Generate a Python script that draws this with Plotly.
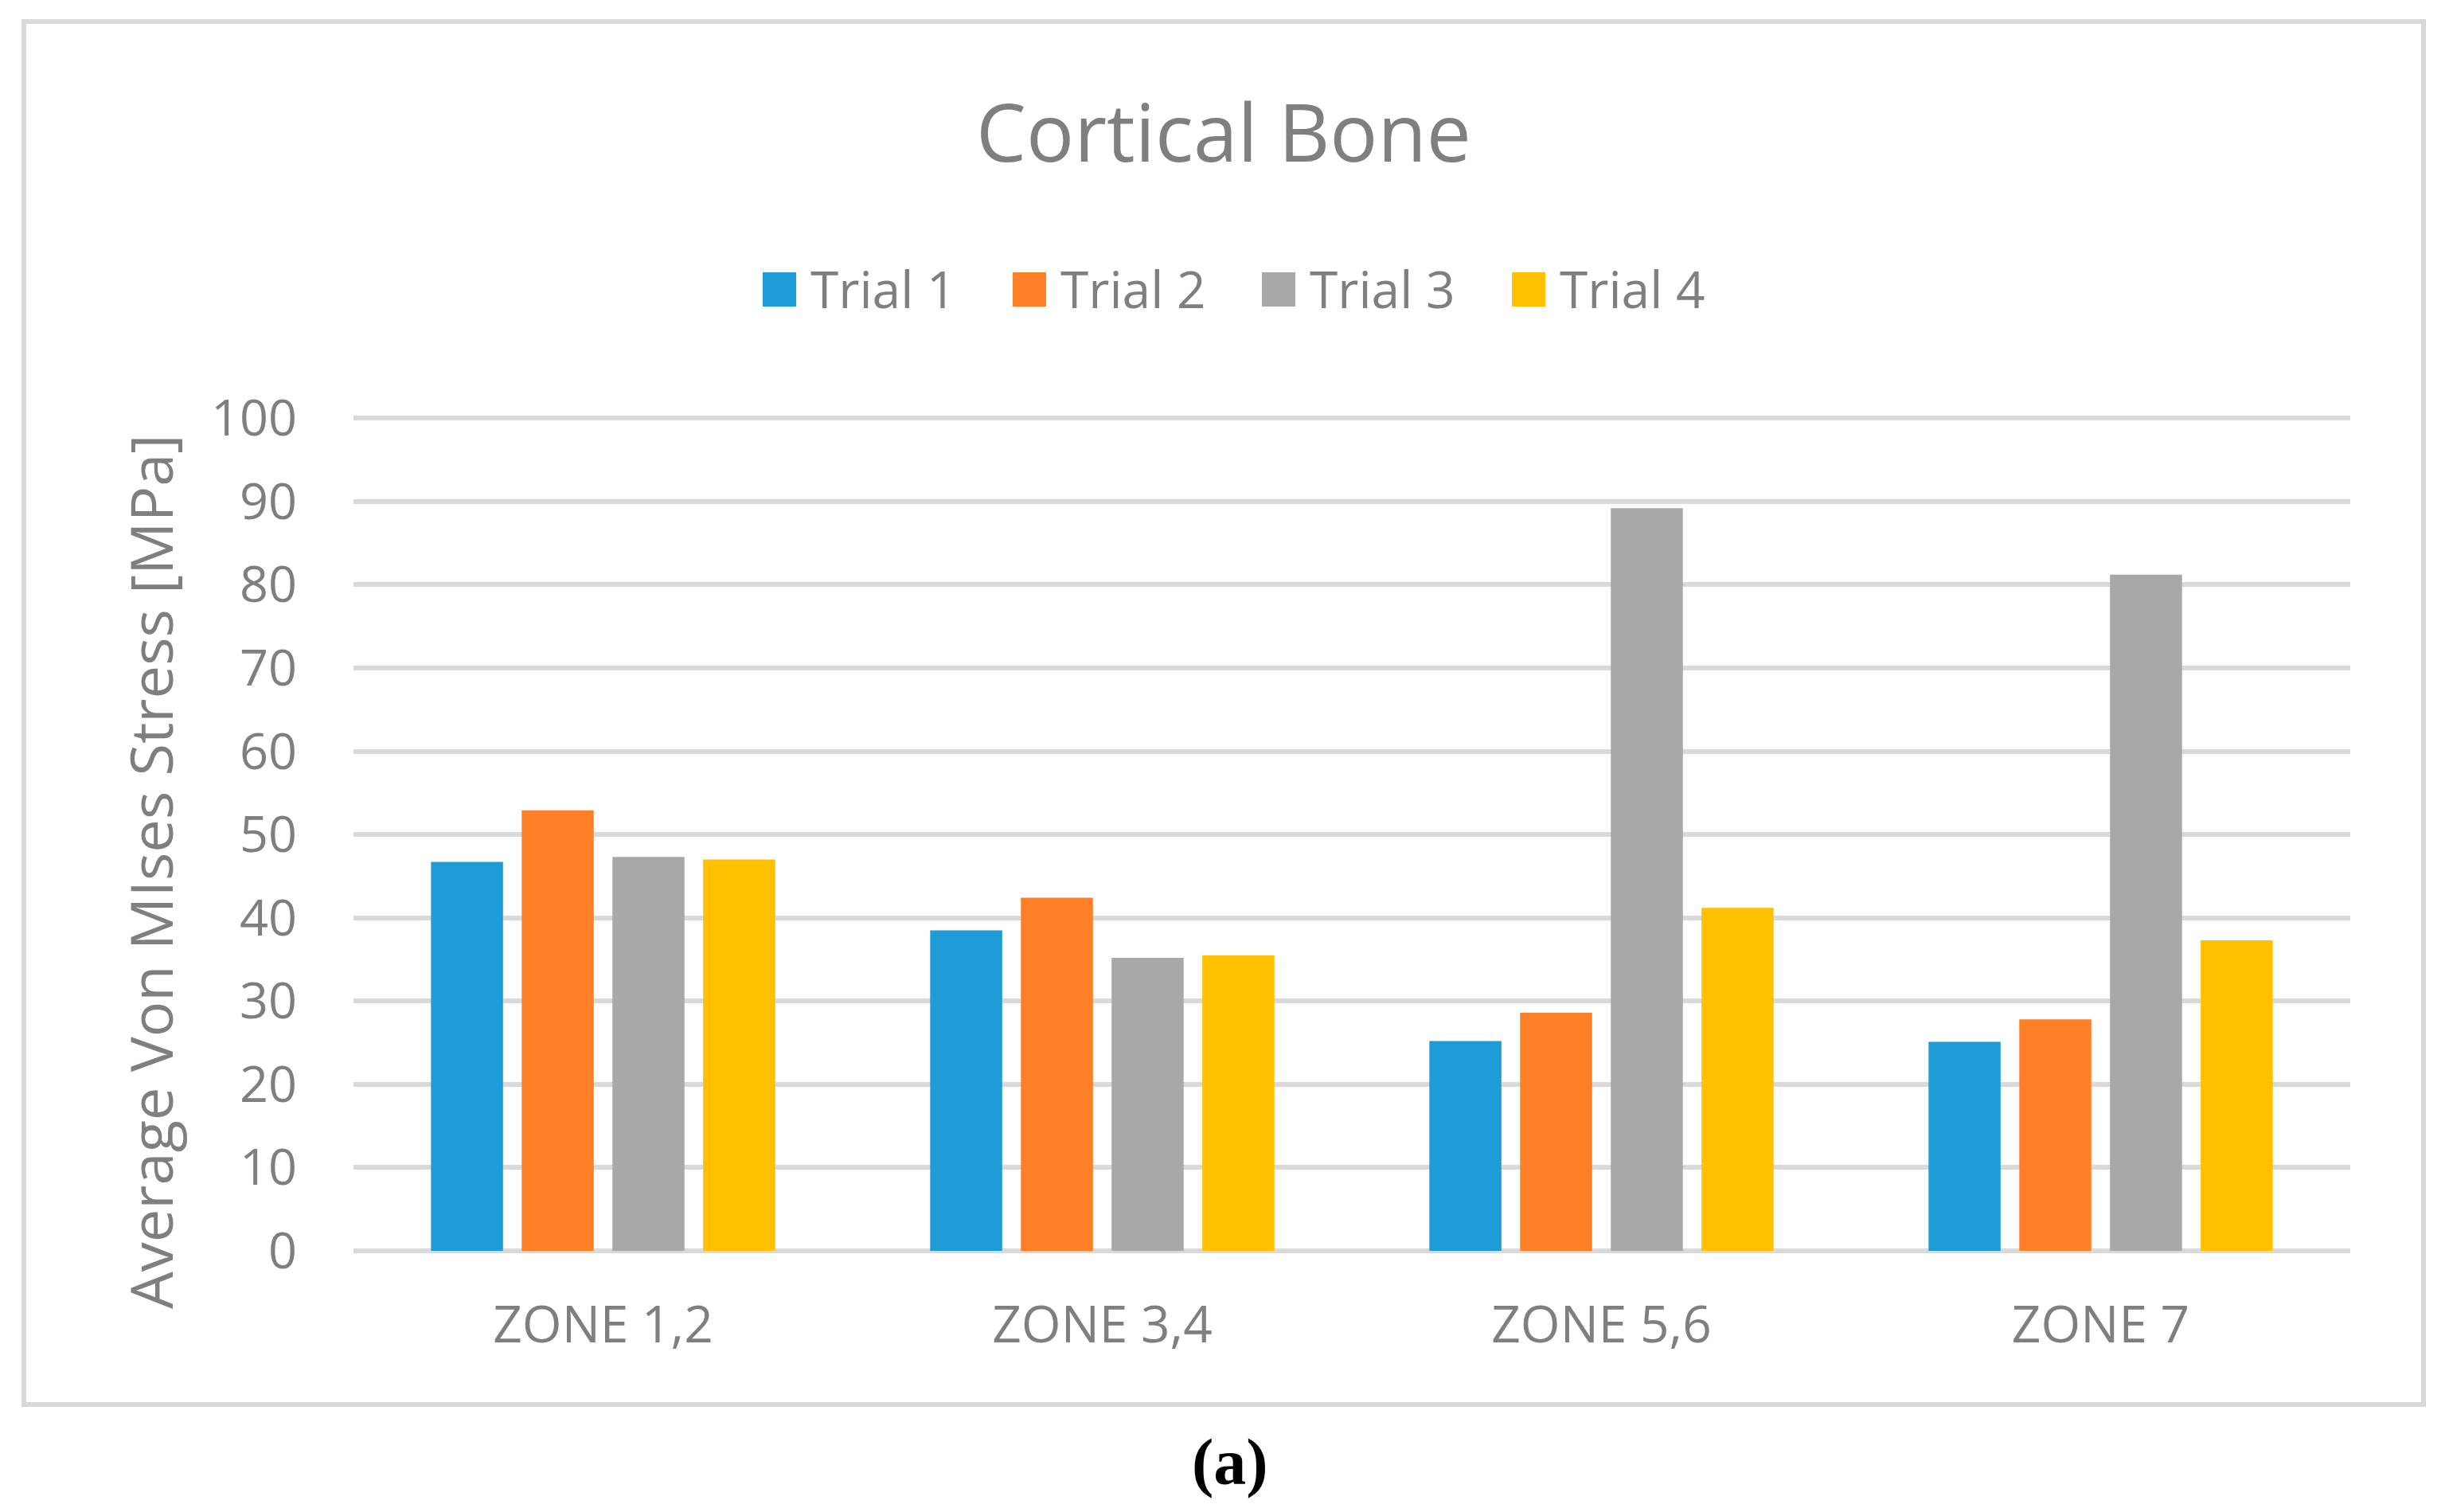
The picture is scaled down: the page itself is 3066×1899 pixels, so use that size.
import plotly.graph_objects as go

# ---- data ----
zones = ["ZONE 1,2", "ZONE 3,4", "ZONE 5,6", "ZONE 7"]
series_names = ["Trial 1", "Trial 2", "Trial 3", "Trial 4"]
trial1 = [46.7, 38.5, 25.2, 25.1]
trial2 = [52.9, 42.4, 28.6, 27.8]
trial3 = [47.3, 35.2, 89.2, 81.2]
trial4 = [47.0, 35.5, 41.2, 37.3]
colors = ["#1E9CD7", "#FF7F27", "#A8A8A8", "#FFC000"]
y_ticks = [0, 10, 20, 30, 40, 50, 60, 70, 80, 90, 100]

W, H = 3066, 1899
L, R, T, B = 444, 3066 - 2952, 520, 1899 - 1571
PW, PH = W - L - R, H - T - B


def px(x):
    return (x - L) / PW


def py(y):
    return (H - B - y) / PH


TXT = "#7F7F7F"
FONT = "Open Sans"

fig = go.Figure()
for name, vals, col in zip(series_names, [trial1, trial2, trial3, trial4], colors):
    fig.add_trace(go.Bar(name=name, x=zones, y=vals, marker=dict(color=col, line=dict(width=0)),
                         showlegend=False))

annotations = [
    # y-axis title
    dict(text="Average Von MIses Stress [MPa]", textangle=-90, x=px(188), y=py(1095),
         xref="paper", yref="paper", showarrow=False, xanchor="center", yanchor="middle",
         font=dict(family=FONT, size=74, color=TXT)),
    # caption
    dict(text="<b>(a)</b>", x=px(1545), y=py(1836), xref="paper", yref="paper", showarrow=False,
         xanchor="center", yanchor="middle",
         font=dict(family="Liberation Serif", size=82, color="#000000")),
]

shapes = [
    dict(type="rect", xref="paper", yref="paper", x0=px(30), x1=px(3044), y0=py(27), y1=py(1764),
         line=dict(color="#D9D9D9", width=6), fillcolor="rgba(0,0,0,0)", layer="below"),
]

# manual legend (large square swatches)
sq_left = [958, 1272, 1585, 1899]
for name, col, x0 in zip(series_names, colors, sq_left):
    shapes.append(dict(type="rect", xref="paper", yref="paper", x0=px(x0), x1=px(x0 + 42),
                       y0=py(385), y1=py(342), fillcolor=col, line=dict(width=0)))
    annotations.append(dict(text=name, x=px(x0 + 58), y=py(362), xref="paper", yref="paper",
                            showarrow=False, xanchor="left", yanchor="middle",
                            font=dict(family=FONT, size=64, color=TXT)))

fig.update_layout(
    width=W, height=H,
    margin=dict(l=L, r=R, t=T, b=B, autoexpand=False),
    paper_bgcolor="white", plot_bgcolor="white",
    barmode="group", bargap=0.273, bargroupgap=0.206,
    title=dict(text="Cortical Bone", x=px(1537), xref="paper", xanchor="center",
               y=1 - 168 / H, yref="container", yanchor="middle",
               font=dict(family=FONT, size=100, color=TXT)),
    showlegend=False,
    annotations=annotations,
    shapes=shapes,
    xaxis=dict(showgrid=False, showline=False, ticks="", zeroline=False,
               tickfont=dict(family=FONT, size=64, color=TXT), ticklabelstandoff=50),
    yaxis=dict(range=[0, 100.5], tickvals=y_ticks, showgrid=True, gridcolor="#D9D9D9", gridwidth=6,
               zeroline=True, zerolinecolor="#D9D9D9", zerolinewidth=6, showline=False, ticks="",
               tickfont=dict(family=FONT, size=63, color=TXT), ticklabelstandoff=70),
)

fig.write_html("out.html", config={"displayModeBar": False},
               post_script="document.body.style.margin='0';")
